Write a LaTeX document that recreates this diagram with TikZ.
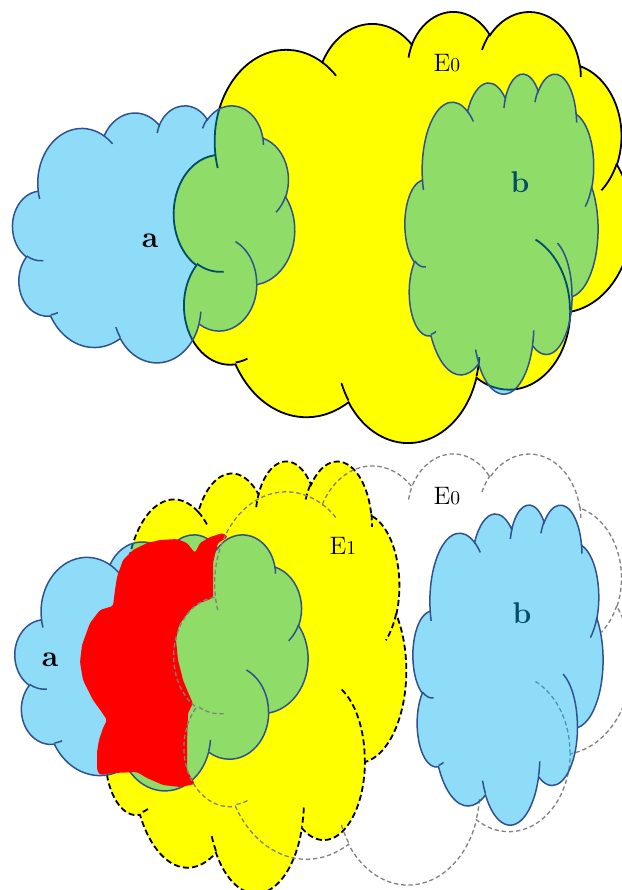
\documentclass[tikz,border=0pt]{standalone}
\definecolor{cloudyellow}{RGB}{255,255,0}
\definecolor{cloudred}{RGB}{255,0,0}
\definecolor{cloudblue}{RGB}{0,176,240}
\definecolor{cloudline}{RGB}{47,82,143}
\definecolor{dashgray}{RGB}{128,128,128}
\definecolor{labelteal}{RGB}{0,77,106}

% One arc of the cloud outline: ellipse radii and the start/sweep
% angles measured geometrically; converted here to the parametric
% angles that TikZ's arc expects.
\newcommand\cldprep[5]{%
  \pgfmathsetmacro\cldtmpa{atan2((#2)*sin(#4),(#3)*cos(#4))}%
  \pgfmathsetmacro\cldtmpb{atan2((#2)*sin((#4)+(#5)),(#3)*cos((#4)+(#5)))}%
  \pgfmathsetmacro\cldtmpd{mod(\cldtmpb-\cldtmpa+720,360)}%
  \expandafter\xdef\csname cldarc#1\endcsname{arc[start angle=\cldtmpa, delta angle=\cldtmpd, x radius=#2, y radius=#3]}%
}
% outline (box 43.2 x 43.2, y downwards)
\cldprep{A}{6.753}{9.190}{-190.48748}{123.78053}
\cldprep{B}{5.333}{7.267}{-144.10238}{89.94523}
\cldprep{C}{4.365}{5.945}{-145.80792}{99.72302}
\cldprep{D}{4.857}{6.595}{-130.98607}{117.24173}
\cldprep{E}{5.333}{7.273}{-78.70888}{109.02692}
\cldprep{F}{6.775}{9.220}{-46.26725}{130.269}
\cldprep{G}{5.785}{7.867}{0.62502}{114.03333}
\cldprep{H}{6.752}{9.215}{22.4516}{115.17255}
\cldprep{I}{7.720}{10.543}{66.24263}{75.71102}
\cldprep{J}{4.360}{5.918}{-274.94208}{146.73557}
\cldprep{K}{4.345}{5.945}{-246.8285}{152.51885}
% the short inner strokes between the puffs
\cldprep{Pa}{4.345}{5.945}{86.742}{26.4295}
\cldprep{Pb}{4.360}{5.918}{73.61047}{11.44747}
\cldprep{Pc}{6.752}{9.215}{137.62415}{14.0811}
\cldprep{Pd}{6.752}{9.215}{6.45327}{15.99835}
\cldprep{Pe}{5.785}{7.867}{-70.29235}{70.91737}
\cldprep{Pf}{5.333}{7.273}{30.31803}{27.7515}
\cldprep{Pg}{4.857}{6.595}{-13.74433}{14.8589}
\cldprep{Ph}{4.857}{6.595}{-149.18145}{18.19537}
\cldprep{Pi}{4.365}{5.945}{-163.49427}{17.68635}
\cldprep{Pj}{6.753}{9.190}{-66.70695}{12.31935}
\cldprep{Pk}{6.753}{9.190}{157.65435}{11.85817}

\def\cldouter{(3.9,14.37) \cldarcA \cldarcB \cldarcC \cldarcD \cldarcE \cldarcF \cldarcG \cldarcH \cldarcI \cldarcJ \cldarcK -- cycle}
\def\cldinner{(4.693,26.177) \cldarcPa (6.928,34.899) \cldarcPb (16.478,39.090) \cldarcPc (28.827,34.751) \cldarcPd (34.129,22.954) \cldarcPe (41.798,15.354) \cldarcPf (38.324,5.426) \cldarcPg (29.078,3.952) \cldarcPh (22.141,4.720) \cldarcPi (14.000,5.192) \cldarcPj (4.127,15.789) \cldarcPk}

% fill options, stroke options, left, top, width, height (in px)
\newcommand\drawcloud[6]{%
  \begin{scope}[shift={(#3/10,#4/10)},xscale={#5/432},yscale={#6/432}]
    \path[#1] \cldouter;
    \path[#2] \cldouter;
    \path[#2] \cldinner;
  \end{scope}}

\tikzset{
  yellowfill/.style={fill=cloudyellow},
  bluefill/.style={fill=cloudblue, fill opacity=0.44},
  solidrim/.style={draw=black, line width=0.9pt},
  dashrim/.style={draw=black, line width=0.9pt, dash pattern=on 3pt off 1.6pt},
  grayrim/.style={draw=dashgray, line width=0.65pt, dash pattern=on 2.2pt off 1.4pt},
  bluerim/.style={draw=cloudline, line width=0.75pt},
  setname/.style={inner sep=0pt, font=\fontsize{12.6pt}{13pt}\selectfont},
  pointname/.style={inner sep=0pt, font=\fontsize{15pt}{16pt}\selectfont\bfseries},
}
\newcommand\Ename[1]{E{\fontsize{9.8pt}{10pt}\selectfont #1}}

\begin{document}
\begin{tikzpicture}[xscale=0.17573, yscale=-0.17573]
\useasboundingbox (0,0) rectangle (62.1,89);

% ---- upper picture: E0 with a and b ----
\drawcloud{yellowfill}{solidrim}{174}{10.5}{457.6}{431}
\drawcloud{bluefill}{bluerim}{12.7}{105}{282}{257}
\drawcloud{bluefill}{bluerim}{405}{73}{193}{320}

\node[setname] (e0up) at (44.7,6.3) {\Ename{0}};
\node[pointname] (aup) at (15.0,24.1) {a};
\node[pointname, text=labelteal] (bup) at (52.0,18.2) {b};

% ---- lower picture: E1, a moved, E0 left behind ----
\drawcloud{yellowfill}{dashrim}{98.6}{460}{307.6}{432}
\drawcloud{bluefill}{bluerim}{15}{534}{293}{256}

\fill[cloudred, rounded corners=1.2pt]
  (22.8,53.7) -- (22.3,53.3) -- (21.0,53.7) -- (20.0,54.3) -- (19.5,55.3)
  -- (19.1,54.8) -- (18.7,54.3) -- (17.7,53.9) -- (16.0,54.0) -- (14.7,54.3)
  -- (13.3,55.0) -- (12.3,56.0) -- (11.7,57.7) -- (11.5,59.0) -- (11.3,60.6)
  -- (10.0,61.0) -- (9.0,62.3) -- (8.2,64.5) -- (8.0,66.2) -- (8.3,68.0)
  -- (9.3,70.0) -- (10.1,71.1) -- (10.7,72.0) -- (10.3,72.8) -- (9.9,74.0)
  -- (9.7,75.2) -- (9.7,77.0) -- (10.0,77.5) -- (11.3,77.3) -- (13.7,77.2)
  -- (14.7,77.8) -- (16.3,78.5) -- (18.0,78.7) -- (19.5,78.4) -- (19.2,77.9)
  -- (18.7,77.0) -- (18.7,74.3) -- (18.8,71.3) -- (19.3,70.3) -- (19.0,69.7)
  -- (18.3,68.0) -- (17.8,66.0) -- (17.6,64.0) -- (17.9,62.5) -- (19.0,61.0)
  -- (20.0,60.3) -- (21.3,59.8) -- (21.3,56.3) -- (21.6,55.0) -- (21.8,54.3) -- cycle;

\drawcloud{}{grayrim}{174}{452.5}{457.6}{431}
\drawcloud{bluefill}{bluerim}{413}{504}{190}{320}

\node[setname] (e1) at (34.3,54.6) {\Ename{1}};
\node[setname] (e0low) at (44.7,49.6) {\Ename{0}};
\node[pointname] (alow) at (5.0,66.0) {a};
\node[pointname, text=labelteal] (blow) at (52.2,61.3) {b};
\end{tikzpicture}
\end{document}
